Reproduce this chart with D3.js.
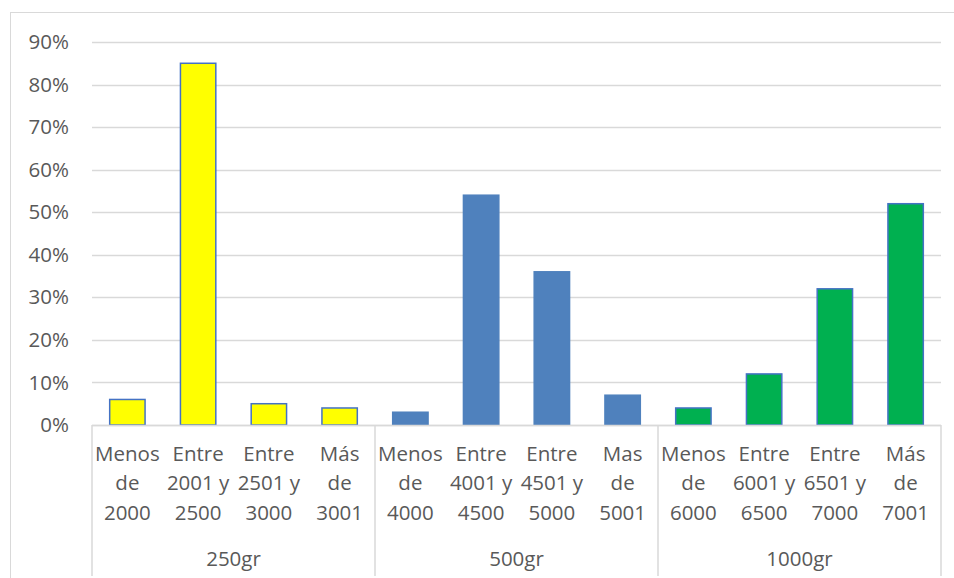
<!DOCTYPE html>
<html>
<head>
<meta charset="utf-8">
<script src="https://cdn.jsdelivr.net/npm/d3@7"></script>
<style>
  html, body { margin: 0; padding: 0; background: #fff; }
  svg { display: block; }
  text { font-family: "Open Sans", "Liberation Sans", sans-serif; fill: #595959; }
</style>
</head>
<body>
<svg id="chart" width="954" height="578"></svg>
<script>
// Weight groups and their price ranges
const groups = ["250gr", "500gr", "1000gr"];
const categories = [
  "Menos de 2000", "Entre 2001 y 2500", "Entre 2501 y 3000", "Más de 3001",
  "Menos de 4000", "Entre 4001 y 4500", "Entre 4501 y 5000", "Mas de 5001",
  "Menos de 6000", "Entre 6001 y 6500", "Entre 6501 y 7000", "Más de 7001"
];
const categoryGroup = [0, 0, 0, 0, 1, 1, 1, 1, 2, 2, 2, 2];
// Share of responses (%)
const values = [6, 85, 5, 4, 3, 54, 36, 7, 4, 12, 32, 52];
const yTicks = [0, 10, 20, 30, 40, 50, 60, 70, 80, 90];

const groupFill = ["#ffff00", "#4f81bd", "#00b050"];
const groupStroke = ["#4472c4", "#4f81bd", "#4472c4"];

const FONT = 20.5;
const svg = d3.select("#chart");
const plotLeft = 92, plotRight = 941, plotTop = 42, plotBottom = 425;

// Outer chart frame
svg.append("rect")
  .attr("x", 10.5).attr("y", 12.5)
  .attr("width", 960).attr("height", 600)
  .attr("fill", "none").attr("stroke", "#d9d9d9").attr("stroke-width", 1);

const x = d3.scaleBand().domain(d3.range(categories.length))
  .range([plotLeft, plotRight]).paddingInner(0.5).paddingOuter(0.25);
const band = (plotRight - plotLeft) / categories.length;
const y = d3.scaleLinear().domain([0, 90]).range([plotBottom, plotTop]);

// Gridlines
svg.append("g").selectAll("line").data(yTicks).join("line")
  .attr("x1", plotLeft).attr("x2", plotRight)
  .attr("y1", d => Math.round(y(d)) + 0.5).attr("y2", d => Math.round(y(d)) + 0.5)
  .attr("stroke", "#d9d9d9").attr("stroke-width", 1.5);

// Y axis labels
const yAxis = d3.axisLeft(y).tickValues(yTicks).tickFormat(d => d + "%").tickSize(0).tickPadding(0);
const yg = svg.append("g").attr("transform", "translate(69,0)").call(yAxis);
yg.select(".domain").remove();
yg.selectAll("text").attr("font-size", FONT).attr("fill", "#595959")
  .style("font-family", '"Open Sans", sans-serif');

// Bars
svg.append("g").selectAll("rect").data(values).join("rect")
  .attr("x", (d, i) => x(i))
  .attr("width", x.bandwidth())
  .attr("y", d => y(d))
  .attr("height", d => y(0) - y(d))
  .attr("fill", (d, i) => groupFill[categoryGroup[i]])
  .attr("stroke", (d, i) => groupStroke[categoryGroup[i]])
  .attr("stroke-width", 1.5);

// Category axis baseline and group separators
svg.append("line")
  .attr("x1", plotLeft).attr("x2", plotRight).attr("y1", plotBottom + 0.5).attr("y2", plotBottom + 0.5)
  .attr("stroke", "#d9d9d9").attr("stroke-width", 1.5);
const sepIdx = [0, 4, 8, 12];
svg.append("g").selectAll("line").data(sepIdx).join("line")
  .attr("x1", i => plotLeft + i * band).attr("x2", i => plotLeft + i * band)
  .attr("y1", plotBottom).attr("y2", 576)
  .attr("stroke", "#d9d9d9").attr("stroke-width", 1.5);

// Wrap category labels to the available width
const measure = svg.append("text").attr("font-size", FONT).attr("visibility", "hidden");
function wrap(str, width) {
  const words = str.split(" ");
  const lines = [];
  let cur = "";
  for (const w of words) {
    const test = cur ? cur + " " + w : w;
    measure.text(test);
    if (cur && measure.node().getComputedTextLength() > width) {
      lines.push(cur);
      cur = w;
    } else {
      cur = test;
    }
  }
  if (cur) lines.push(cur);
  return lines;
}

const catG = svg.append("g");
categories.forEach((c, i) => {
  const lines = wrap(c, band - 4);
  const cx = x(i) + x.bandwidth() / 2;
  const t = catG.append("text")
    .attr("x", cx)
    .attr("y", 461)
    .attr("text-anchor", "middle")
    .attr("font-size", FONT);
  lines.forEach((ln, k) => {
    t.append("tspan").attr("x", cx).attr("y", 461 + k * 29.3).text(ln);
  });
});
measure.remove();

// Group labels
svg.append("g").selectAll("text").data(groups).join("text")
  .attr("x", (d, g) => plotLeft + (g * 4 + 2) * band)
  .attr("y", 566)
  .attr("text-anchor", "middle")
  .attr("font-size", FONT)
  .text(d => d);
</script>
</body>
</html>
